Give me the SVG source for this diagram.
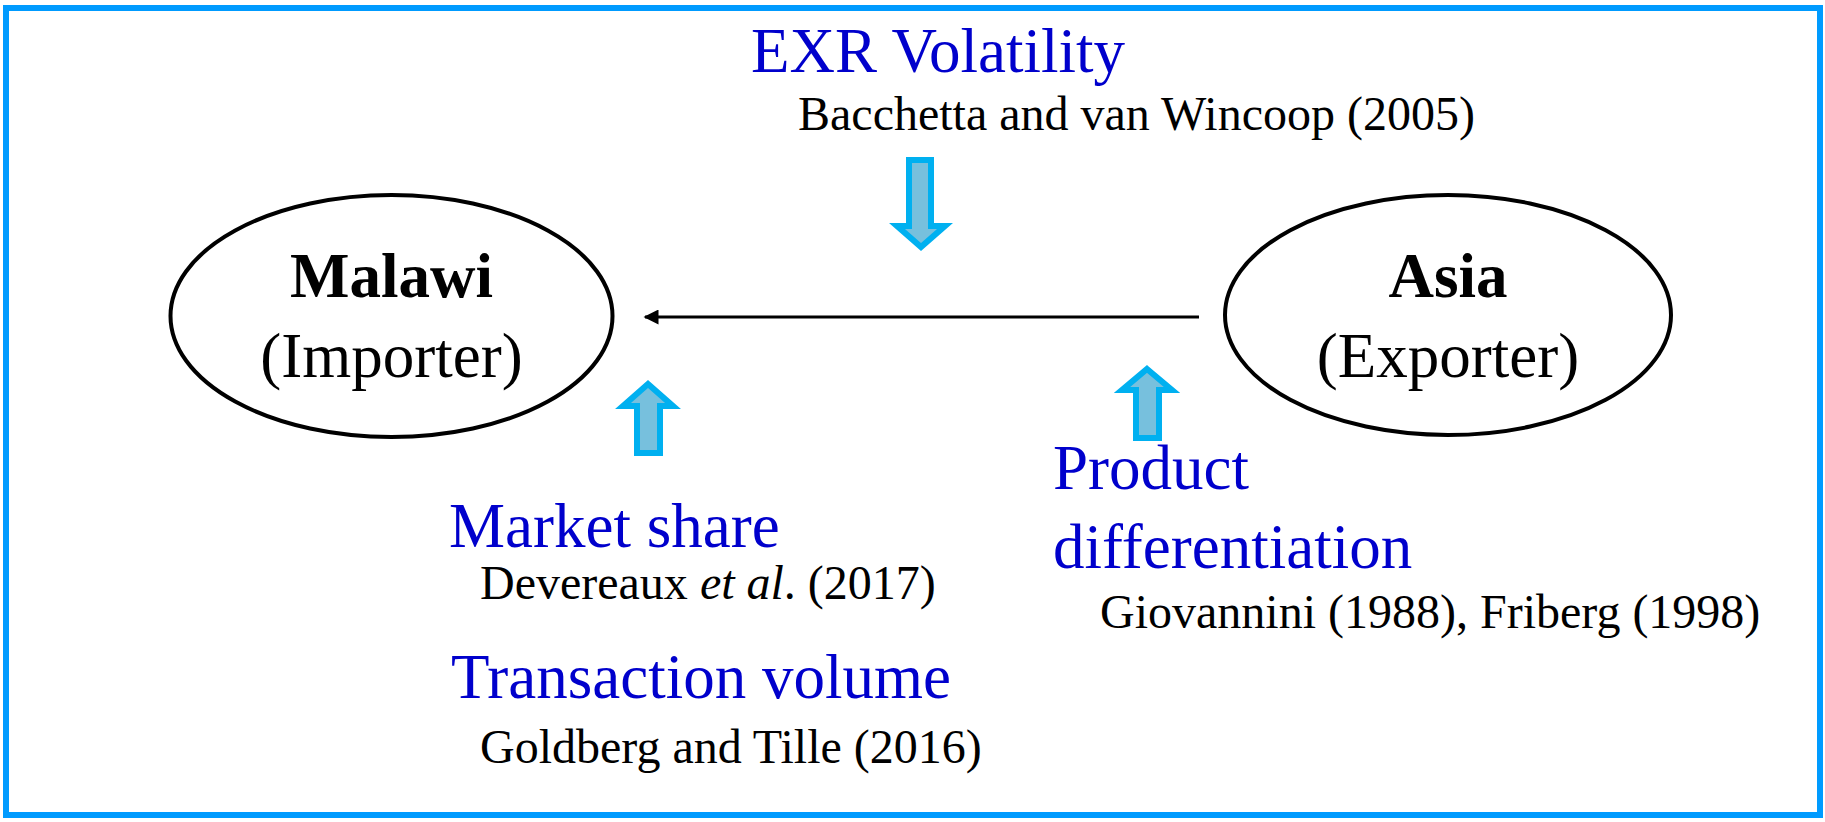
<svg xmlns="http://www.w3.org/2000/svg" width="1825" height="822" viewBox="0 0 1825 822">
  <style>
    .frame { fill: #ffffff; stroke: #009BFF; stroke-width: 6; }
    .node { fill: #ffffff; stroke: #000000; stroke-width: 4; }
    .blk { fill: #77C0DD; stroke: #00B0F0; stroke-width: 6; stroke-linejoin: miter; }
    .flow { fill: none; stroke: #000000; stroke-width: 3; }
    text { font-family: "Liberation Serif", "Times New Roman", serif; }
    .title { font-size: 63px; fill: #000000; }
    .bold { font-weight: bold; }
    .factor { font-size: 63px; fill: #0000CC; }
    .ref { font-size: 48px; fill: #000000; }
  </style>
  <defs>
    <marker id="head" viewBox="0 0 10 10" refX="9" refY="5" markerWidth="6" markerHeight="5" markerUnits="strokeWidth" orient="auto">
      <path d="M0,0 L10,5 L0,10 z" fill="#000000"/>
    </marker>
  </defs>

  <rect class="frame" x="6" y="8" width="1814" height="807"/>

  <g id="malawi">
    <ellipse class="node" cx="391.5" cy="316" rx="221" ry="121"/>
    <text class="title bold" x="391.5" y="297" text-anchor="middle">Malawi</text>
    <text class="title" x="391.5" y="377" text-anchor="middle">(Importer)</text>
  </g>

  <g id="asia">
    <ellipse class="node" cx="1448" cy="315" rx="223" ry="120"/>
    <text class="title bold" x="1448" y="297" text-anchor="middle">Asia</text>
    <text class="title" x="1448" y="377" text-anchor="middle">(Exporter)</text>
  </g>

  <g id="connectors">
    <line class="flow" x1="1199" y1="317" x2="645" y2="317" marker-end="url(#head)"/>
  </g>

  <g id="exr-volatility">
    <text class="factor" x="751" y="72">EXR Volatility</text>
    <text class="ref" x="798" y="130">Bacchetta and van Wincoop (2005)</text>
    <polygon class="blk" points="909,160 931,160 931,226 945,226 921,247 897,226 909,226"/>
  </g>

  <g id="importer-factors">
    <polygon class="blk" points="648,384 673,406 660,406 660,453 637,453 637,406 623,406"/>
    <text class="factor" x="449" y="547">Market share</text>
    <text class="ref" x="480" y="599">Devereaux <tspan font-style="italic">et al</tspan>. (2017)</text>
    <text class="factor" x="451" y="698">Transaction volume</text>
    <text class="ref" x="480" y="763">Goldberg and Tille (2016)</text>
  </g>

  <g id="exporter-factors">
    <polygon class="blk" points="1147,369 1172,390 1159,390 1159,438 1136,438 1136,390 1122,390"/>
    <text class="factor" x="1053" y="489">Product</text>
    <text class="factor" x="1053" y="568">differentiation</text>
    <text class="ref" x="1100" y="628">Giovannini (1988), Friberg (1998)</text>
  </g>
</svg>
